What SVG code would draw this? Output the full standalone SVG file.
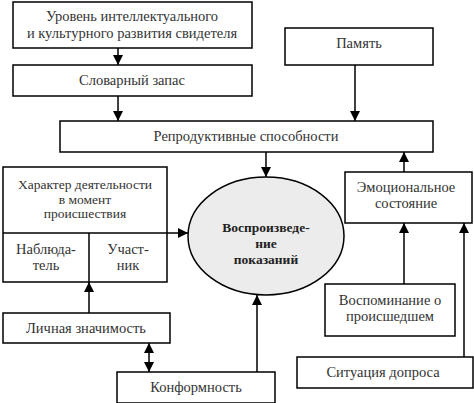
<svg xmlns="http://www.w3.org/2000/svg" width="474" height="403" viewBox="0 0 474 403">
<defs>
<marker id="ah" viewBox="0 0 10 10" refX="10" refY="5" markerWidth="10" markerHeight="10" markerUnits="userSpaceOnUse" orient="auto-start-reverse">
<path d="M0,0 L10,5 L0,10 z" fill="#000"/>
</marker>
<style>
rect.b{fill:#fff;stroke:#000;stroke-width:1.5}
line{stroke:#000;stroke-width:1.5;fill:none}
text{font-size:14.5px;fill:#333;text-anchor:middle}
text.s{font-size:13.5px}
text.bold{font-weight:bold;fill:#222;font-size:13.5px}
</style>
</defs>
<rect width="474" height="403" fill="#fff"/>
<g id="connectors">
<line x1="118" y1="48" x2="118" y2="65" marker-end="url(#ah)"/>
<line x1="118" y1="96" x2="118" y2="121" marker-end="url(#ah)"/>
<line x1="355" y1="65" x2="355" y2="121" marker-end="url(#ah)"/>
<line x1="266" y1="152" x2="266" y2="177" marker-end="url(#ah)"/>
<line x1="404" y1="172" x2="404" y2="152" marker-end="url(#ah)"/>
<line x1="167" y1="233" x2="188" y2="233" marker-end="url(#ah)"/>
<line x1="404" y1="284" x2="404" y2="223" marker-end="url(#ah)"/>
<line x1="464" y1="357" x2="464" y2="223" marker-end="url(#ah)"/>
<line x1="89" y1="313" x2="89" y2="282" marker-end="url(#ah)"/>
<line x1="149" y1="343" x2="149" y2="372" marker-start="url(#ah)" marker-end="url(#ah)"/>
<line x1="257" y1="372" x2="257" y2="295" marker-end="url(#ah)"/>
</g>
<g font-family="Liberation Serif, Times New Roman, serif">
<g id="n-uroven">
<rect class="b" x="13" y="2" width="239" height="46"/>
<text x="132" y="21">Уровень интеллектуального</text>
<text x="132" y="38">и культурного развития свидетеля</text>
</g>
<g id="n-slovar">
<rect class="b" x="13" y="65" width="239" height="31"/>
<text x="132" y="85">Словарный запас</text>
</g>
<g id="n-pamyat">
<rect class="b" x="285" y="28" width="148" height="37"/>
<text x="359" y="48">Память</text>
</g>
<g id="n-reprod">
<rect class="b" x="60" y="121" width="373" height="31"/>
<text x="246" y="141">Репродуктивные способности</text>
</g>
<g id="n-harakter">
<rect class="b" x="3" y="167" width="164" height="115"/>
<line x1="3" y1="233" x2="167" y2="233"/>
<line x1="89" y1="233" x2="89" y2="282"/>
<text class="s" x="85" y="189">Характер деятельности</text>
<text class="s" x="85" y="203.5">в момент</text>
<text class="s" x="85" y="218">происшествия</text>
<text x="46" y="254">Наблюда-</text>
<text x="46" y="270">тель</text>
<text x="128" y="254">Участ-</text>
<text x="128" y="270">ник</text>
</g>
<g id="n-vospr">
<ellipse cx="266" cy="236" rx="78" ry="59" fill="#ececec" stroke="#000" stroke-width="1.5"/>
<text class="bold" x="266" y="232">Воспроизведе-</text>
<text class="bold" x="266" y="248">ние</text>
<text class="bold" x="266" y="264">показаний</text>
</g>
<g id="n-emoc">
<rect class="b" x="345" y="172" width="127" height="51"/>
<text x="406" y="192">Эмоциональное</text>
<text x="406" y="208">состояние</text>
</g>
<g id="n-vospom">
<rect class="b" x="325" y="284" width="130" height="52"/>
<text x="390" y="305">Воспоминание о</text>
<text x="390" y="321">происшедшем</text>
</g>
<g id="n-situac">
<rect class="b" x="297" y="357" width="176" height="31"/>
<text x="383" y="377">Ситуация допроса</text>
</g>
<g id="n-lichn">
<rect class="b" x="3" y="313" width="167" height="30"/>
<text x="86" y="333">Личная значимость</text>
</g>
<g id="n-konf">
<rect class="b" x="117" y="372" width="158" height="31"/>
<text x="196" y="392">Конформность</text>
</g>
</g>
</svg>
